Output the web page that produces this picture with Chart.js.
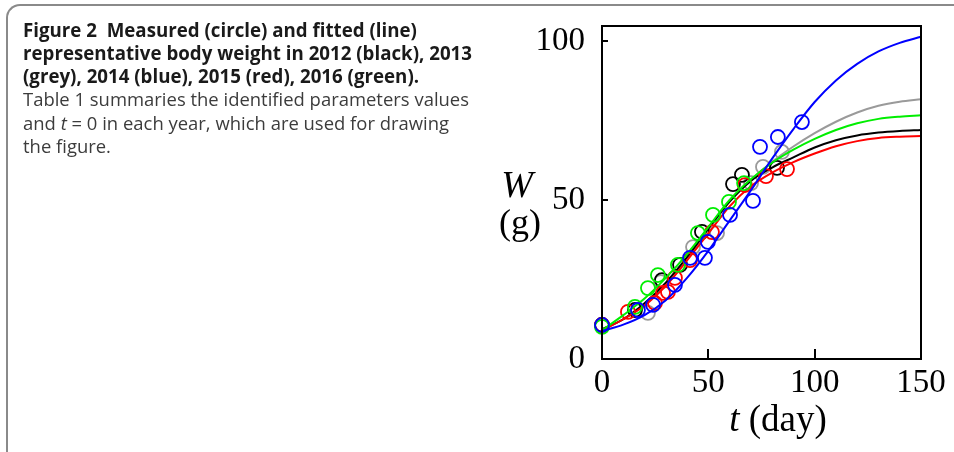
<!DOCTYPE html>
<html>
<head>
<meta charset="utf-8">
<script src="https://cdn.jsdelivr.net/npm/chart.js@4.4.1/dist/chart.umd.min.js"></script>
<style>
  html, body { margin: 0; padding: 0; background: #fff; }
  body { width: 954px; height: 452px; position: relative; overflow: hidden; }
  #frame {
    position: absolute; left: 6px; top: 4px; width: 1000px; height: 460px;
    border-top: 2px solid #8a8a8a; border-left: 2px solid #8a8a8a;
    border-radius: 14px 0 0 14px;
  }
  #chart { position: absolute; left: 0; top: 0; width: 954px; height: 452px; }
  #caption {
    position: absolute; left: 23px; top: 18.5px;
    font-family: 'Open Sans', 'Noto Sans', sans-serif; font-size: 19px; line-height: 23.3px;
  }
  .ln { white-space: nowrap; width: max-content; transform-origin: 0 0; }
  .b { font-weight: 700; color: #1a1a1a; }
  .r { font-weight: 400; color: #3c3c3c; }
</style>
</head>
<body>
<div id="frame"></div>
<div id="chart"><canvas id="c" width="954" height="452"></canvas></div>
<div id="caption">
  <div class="ln b">Figure 2&nbsp; Measured (circle) and fitted (line)</div>
  <div class="ln b">representative body weight in 2012 (black), 2013</div>
  <div class="ln b">(grey), 2014 (blue), 2015 (red), 2016 (green).</div>
  <div class="ln r">Table 1 summaries the identified parameters values</div>
  <div class="ln r">and <i>t</i> = 0 in each year, which are used for drawing</div>
  <div class="ln r">the figure.</div>
</div>
<script>
// axis ticks
const X_TICKS = [0, 50, 100, 150];
const Y_TICKS = [0, 50, 100];

// fitted curves (W in g at t in days)
const FIT_T = [0, 10, 20, 30, 40, 50, 60, 70, 80, 90, 100, 110, 120, 130, 140, 150];
const FIT_2012 = [9.3, 12.5, 17.5, 24, 32, 41, 49.5, 56, 60.2, 63.4, 66.5, 68.8, 70.3, 71.2, 71.7, 72];
const FIT_2013 = [9.3, 12.5, 17, 23.5, 31.5, 40.5, 49.5, 56.3, 62, 66.8, 71, 74.6, 77.5, 79.6, 80.9, 81.7];
const FIT_2014 = [8.8, 10.8, 13.8, 18.5, 25.5, 34, 43.5, 53, 63, 72.3, 80.8, 87.6, 92.8, 96.7, 99.4, 101.3];
const FIT_2015 = [9, 12.5, 16.8, 23, 31, 39.5, 48, 54.3, 58.6, 61.9, 64.6, 66.9, 68.5, 69.5, 69.9, 70.1];
const FIT_2016 = [9, 13.8, 19, 25.5, 33, 41.5, 50, 56.5, 61.7, 65.8, 69.2, 72, 74.1, 75.5, 76.2, 76.6];

// measured points
const OBS_2012_T = [0, 15.5, 28.2, 36.7, 47, 61.6, 65.8, 82.3];
const OBS_2012_W = [10.7, 15.4, 24.8, 29.6, 40, 55, 57.9, 60.1];
const OBS_2013_T = [0, 21.6, 27.7, 42.8, 54.1, 70.1, 75.7, 84.6];
const OBS_2013_W = [10.7, 14.5, 24.2, 35.2, 39.6, 55.3, 60.4, 65.1];
const OBS_2014_T = [0, 16.9, 24, 34.3, 41.4, 48.4, 49.8, 60.2, 71, 74.3, 82.7, 94];
const OBS_2014_W = [10.7, 15.4, 17, 23.3, 31.8, 31.8, 36.8, 45.3, 49.7, 66.7, 69.8, 74.5];
const OBS_2015_T = [0, 12.2, 24.9, 28.7, 31, 34.3, 41.4, 51.7, 67.2, 77.1, 87];
const OBS_2015_W = [10.7, 14.8, 17.6, 20.8, 21.1, 25.5, 31.1, 39.9, 54.7, 57.5, 59.7];
const OBS_2016_T = [0, 15.5, 21.6, 26.3, 35.7, 45.1, 52.2, 59.7, 66.8];
const OBS_2016_W = [10.1, 16.4, 22.3, 26.4, 29.6, 39.6, 45.3, 49.4, 55.3];

const COLORS = { 2012: '#000000', 2013: '#9a9a9a', 2014: '#0000ff', 2015: '#ff0000', 2016: '#00ee00' };

function pairs(xs, ys) {
  return xs.map((t, i) => ({ x: t, y: ys[i] }));
}

function lineSet(year, ys) {
  return {
    label: year + ' fit',
    data: pairs(FIT_T, ys),
    showLine: true,
    borderColor: COLORS[year],
    borderWidth: 2,
    pointRadius: 0,
    cubicInterpolationMode: 'monotone',
    clip: false
  };
}

function pointSet(year, ts, ws) {
  return {
    label: year,
    data: pairs(ts, ws),
    showLine: false,
    borderColor: COLORS[year],
    backgroundColor: 'rgba(0,0,0,0)',
    pointRadius: 7,
    pointBorderWidth: 1.8,
    clip: false
  };
}

// first dataset is drawn on top
const datasets = [
  pointSet(2014, OBS_2014_T, OBS_2014_W),
  lineSet(2014, FIT_2014),
  pointSet(2016, OBS_2016_T, OBS_2016_W),
  lineSet(2016, FIT_2016),
  pointSet(2015, OBS_2015_T, OBS_2015_W),
  lineSet(2015, FIT_2015),
  pointSet(2012, OBS_2012_T, OBS_2012_W),
  lineSet(2012, FIT_2012),
  pointSet(2013, OBS_2013_T, OBS_2013_W),
  lineSet(2013, FIT_2013)
];

const SERIF = "'Liberation Serif', 'Times New Roman', serif";

// box, inward ticks and axis titles
const frame = {
  id: 'frame',
  afterDraw(chart) {
    const { ctx, chartArea: a, scales: { x, y } } = chart;
    ctx.save();
    ctx.strokeStyle = '#000';
    ctx.lineWidth = 2;
    ctx.strokeRect(a.left, a.top, a.right - a.left, a.bottom - a.top);
    ctx.beginPath();
    Y_TICKS.slice(1).forEach(v => {
      const py = Math.round(y.getPixelForValue(v));
      ctx.moveTo(a.left, py);
      ctx.lineTo(a.left + 6, py);
    });
    X_TICKS.slice(1, -1).forEach(v => {
      const px = Math.round(x.getPixelForValue(v));
      ctx.moveTo(px, a.bottom);
      ctx.lineTo(px, a.bottom - 10);
    });
    ctx.stroke();

    ctx.fillStyle = '#000';
    ctx.textBaseline = 'alphabetic';
    ctx.textAlign = 'center';
    ctx.font = 'italic 38px ' + SERIF;
    ctx.fillText('W', 517, 197);
    ctx.font = '36px ' + SERIF;
    ctx.fillText('(g)', 520, 234);

    ctx.textAlign = 'left';
    ctx.font = 'italic 37px ' + SERIF;
    const wt = ctx.measureText('t').width;
    ctx.font = '37px ' + SERIF;
    const wd = ctx.measureText(' (day)').width;
    const x0 = 778 - (wt + wd) / 2;
    ctx.font = 'italic 37px ' + SERIF;
    ctx.fillText('t', x0, 431);
    ctx.font = '37px ' + SERIF;
    ctx.fillText(' (day)', x0 + wt, 431);
    ctx.restore();
  }
};

function noPad(scale) {
  scale.paddingTop = 0;
  scale.paddingBottom = 0;
  scale.paddingLeft = 0;
  scale.paddingRight = 0;
}

new Chart(document.getElementById('c').getContext('2d'), {
  type: 'scatter',
  data: { datasets },
  options: {
    responsive: false,
    animation: false,
    events: [],
    layout: { padding: { top: 26, right: 33, left: 0, bottom: 0 } },
    plugins: { legend: { display: false }, tooltip: { enabled: false } },
    scales: {
      x: {
        type: 'linear',
        min: 0,
        max: 150,
        afterFit(scale) { scale.height = 93; noPad(scale); },
        afterBuildTicks(scale) { scale.ticks = X_TICKS.map(v => ({ value: v })); },
        grid: { display: false, drawTicks: false },
        border: { display: false },
        ticks: { padding: 5, color: '#000', font: { family: SERIF, size: 33 }, maxRotation: 0 }
      },
      y: {
        type: 'linear',
        min: 0,
        max: 104.7,
        afterFit(scale) { scale.width = 602; noPad(scale); },
        afterBuildTicks(scale) { scale.ticks = Y_TICKS.map(v => ({ value: v })); },
        grid: { display: false, drawTicks: false },
        border: { display: false },
        ticks: { padding: 17, color: '#000', font: { family: SERIF, size: 33 } }
      }
    }
  },
  plugins: [frame]
});

// squeeze caption lines to the widths of the printed caption
function fitCaption() {
  const lines = document.querySelectorAll('#caption .ln');
  lines.forEach(l => { l.style.transform = 'none'; });
  const sb = (472 - 23) / lines[1].getBoundingClientRect().width;
  const sr = (469 - 23) / lines[3].getBoundingClientRect().width;
  lines.forEach(l => {
    const s = l.classList.contains('b') ? sb : sr;
    l.style.transform = 'scaleX(' + s.toFixed(4) + ')';
  });
}
fitCaption();
if (document.fonts) document.fonts.ready.then(fitCaption);
</script>
</body>
</html>
